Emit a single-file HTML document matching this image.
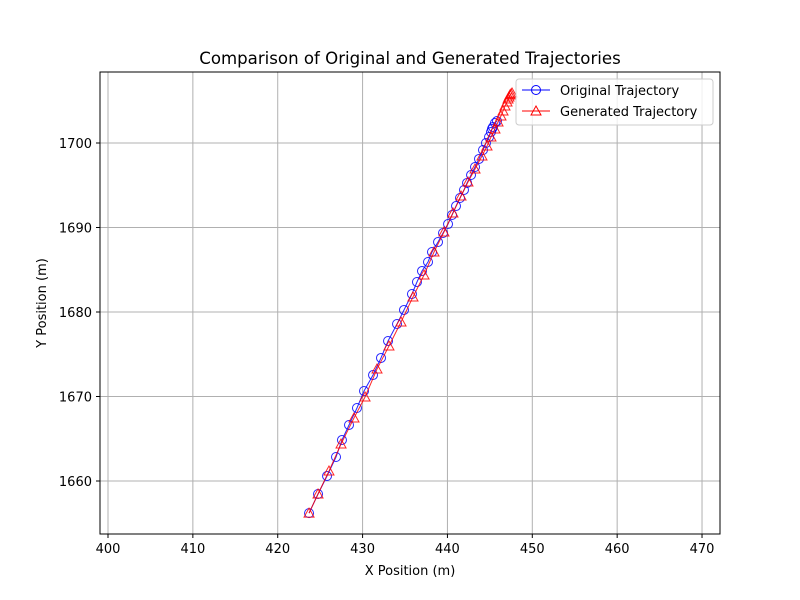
<!DOCTYPE html>
<html><head><meta charset="utf-8"><style>
body{margin:0;background:#fff}
svg{display:block;font-family:"DejaVu Sans","Liberation Sans",sans-serif}
</style></head><body>
<svg id="chart" width="800" height="600">
<rect width="800" height="600" fill="#fff"/>
<text x="410" y="64" font-size="16.6" text-anchor="middle">Comparison of Original and Generated Trajectories</text>
<g id="grid"></g>
<g id="ticks"></g>
<g id="series"></g>
<rect x="100" y="72" width="620" height="462" fill="none" stroke="#000" stroke-width="1"/>
<text x="410" y="575" font-size="13" text-anchor="middle">X Position (m)</text>
<text x="46" y="303" font-size="13" text-anchor="middle" transform="rotate(-90 46 303)">Y Position (m)</text>
<g>
<rect x="516" y="79" width="197" height="46" rx="3" fill="#fff" fill-opacity="0.8" stroke="#ccc"/>
<g>
<line x1="522" y1="90" x2="550" y2="90" stroke="blue" stroke-width="1"/>
<circle cx="536" cy="90" r="4.5" fill="none" stroke="blue"/>
<text x="560" y="95" font-size="13">Original Trajectory</text></g>
<g>
<line x1="522" y1="111" x2="550" y2="111" stroke="red" stroke-width="1"/>
<path d="M536,106 L541,115 L531,115 Z" fill="none" stroke="red"/>
<text x="560" y="116" font-size="13">Generated Trajectory</text></g>
</g>
</svg>
<script>
const origX=[423.69,424.75,425.81,426.87,427.57,428.40,429.34,430.17,431.23,432.17,433.00,434.06,434.88,435.82,436.41,437.00,437.71,438.18,438.89,439.48,440.07,440.54,441.01,441.48,441.95,442.31,442.78,443.25,443.72,444.19,444.54,444.90,445.13,445.25,445.37,445.60,445.84];
const origY=[1656.2,1658.46,1660.59,1662.84,1664.85,1666.63,1668.64,1670.65,1672.54,1674.56,1676.57,1678.58,1680.24,1682.13,1683.55,1684.85,1685.92,1687.10,1688.28,1689.35,1690.41,1691.48,1692.54,1693.49,1694.44,1695.27,1696.21,1697.16,1698.11,1699.17,1700.0,1700.71,1701.30,1701.66,1701.89,1702.37,1702.60];
const genX=[423.69,424.75,426.04,427.46,428.99,430.29,431.70,433.11,434.53,435.94,437.24,438.42,439.59,440.65,441.60,442.42,443.25,444.07,444.66,445.13,445.60,445.96,446.31,446.55,446.78,447.02,447.14,447.25,447.37,447.49,447.61];
const genY=[1656.2,1658.46,1661.18,1664.38,1667.46,1669.94,1673.25,1675.98,1678.82,1681.78,1684.38,1687.10,1689.47,1691.72,1693.73,1695.38,1696.92,1698.46,1699.64,1700.71,1701.66,1702.49,1703.20,1703.79,1704.38,1704.85,1705.21,1705.44,1705.68,1705.80,1705.92];
const xTicks=[400,410,420,430,440,450,460,470];
const yTicks=[1660,1670,1680,1690,1700];
const NS="http://www.w3.org/2000/svg";
const sx=v=>108+(v-400)*8.486;
const sy=v=>143-(v-1700)*8.45;
function mk(tag,attrs,parent){const e=document.createElementNS(NS,tag);for(const k in attrs)e.setAttribute(k,attrs[k]);parent.appendChild(e);return e;}
const grid=document.getElementById('grid'),ticks=document.getElementById('ticks'),series=document.getElementById('series');
xTicks.forEach(t=>{const x=sx(t);
 const g=mk('line',{x1:x,y1:72,x2:x,y2:534,stroke:'#b0b0b0','stroke-width':1},grid);
 
 
 mk('line',{x1:x,y1:534,x2:x,y2:538,stroke:'#000'},ticks);
 const l=mk('text',{x:x,y:553,'font-size':13,'text-anchor':'middle'},ticks);l.textContent=t;
 
 });
yTicks.forEach(t=>{const y=sy(t);
 const g=mk('line',{x1:100,y1:y,x2:720,y2:y,stroke:'#b0b0b0','stroke-width':1},grid);
 
 
 mk('line',{x1:96,y1:y,x2:100,y2:y,stroke:'#000'},ticks);
 const l=mk('text',{x:92,y:y+5,'font-size':13,'text-anchor':'end'},ticks);l.textContent=t;
 
 });
function draw(xs,ys,color,marker,name){
 const pts=xs.map((v,i)=>sx(v)+','+sy(ys[i])).join(' ');
 const pl=mk('polyline',{points:pts,fill:'none',stroke:color,'stroke-width':1,'stroke-opacity':0.85},series);
 
 
 xs.forEach((v,i)=>{const x=sx(v),y=sy(ys[i]);let m;
  if(marker==='o')m=mk('circle',{cx:x,cy:y,r:4.5,fill:'none',stroke:color,'stroke-opacity':0.85},series);
  else m=mk('path',{d:`M${x},${y-5} L${x+5},${y+4} L${x-5},${y+4} Z`,fill:'none',stroke:color,'stroke-opacity':0.85},series);
  
  });
}
draw(origX,origY,'blue','o','original-trajectory');
draw(genX,genY,'red','^','generated-trajectory');
</script>
</body></html>
